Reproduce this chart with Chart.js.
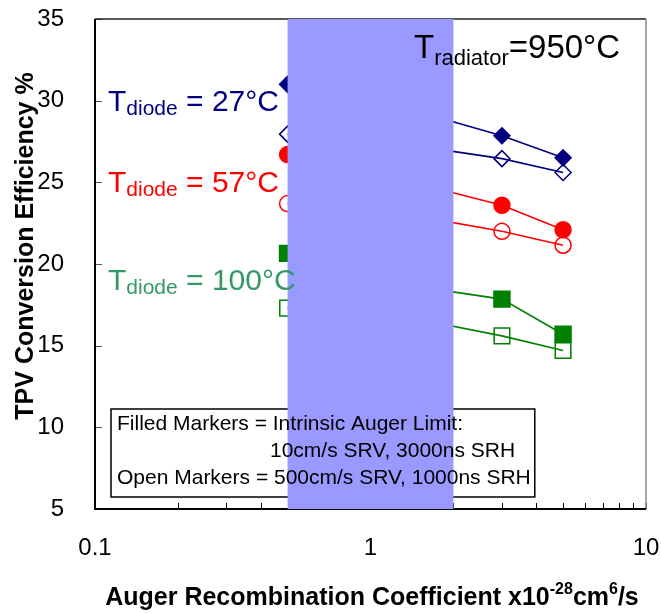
<!DOCTYPE html>
<html>
<head>
<meta charset="utf-8">
<script src="https://cdn.jsdelivr.net/npm/chart.js@4.4.0/dist/chart.umd.min.js"></script>
<style>
html, body { margin: 0; padding: 0; background: #fff; }
</style>
</head>
<body>
<canvas id="myChart" width="661" height="614"></canvas>
<script>
// values
var xValues = [0.5, 1, 1.5, 3, 5];
var filled27 = [31.0, 30.0, 29.3, 27.85, 26.5];
var open27 = [27.95, 27.5, 27.2, 26.45, 25.6];
var filled57 = [26.7, 25.6, 24.9, 23.6, 22.1];
var open57 = [23.7, 23.2, 22.9, 22.0, 21.15];
var filled100 = [20.65, 19.4, 18.6, 17.85, 15.7];
var open100 = [17.3, 16.9, 16.6, 15.6, 14.7];
var xTickLabels = [0.1, 1, 10];
var yTickLabels = [5, 10, 15, 20, 25, 30, 35];
var bandRange = [0.5, 2];

var FONT = '"Liberation Sans", Arial, sans-serif';

function series(label, ys, color, style, radius, filled) {
    return {
        label: label,
        data: xValues.map(function(x, i){ return {x: x, y: ys[i]}; }),
        showLine: true,
        borderColor: color,
        borderWidth: 1.6,
        pointStyle: style,
        pointRadius: radius,
        pointHoverRadius: radius,
        pointBorderColor: color,
        pointBackgroundColor: filled ? color : 'rgba(0,0,0,0)',
        pointBorderWidth: 1.5,
        fill: false
    };
}

function richWidth(ctx, parts) {
    var w = 0;
    parts.forEach(function(p){
        ctx.font = (p.bold ? 'bold ' : '') + p.size + 'px ' + FONT;
        w += ctx.measureText(p.t).width;
    });
    return w;
}

function drawRich(ctx, x, y, parts, color) {
    ctx.fillStyle = color;
    ctx.textAlign = 'left';
    ctx.textBaseline = 'alphabetic';
    parts.forEach(function(p){
        ctx.font = (p.bold ? 'bold ' : '') + p.size + 'px ' + FONT;
        ctx.fillText(p.t, x, y + (p.dy || 0));
        x += ctx.measureText(p.t).width;
    });
}

var decor = {
    id: 'decor',
    afterDatasetsDraw: function(chart) {
        var ctx = chart.ctx, a = chart.chartArea;
        var xs = chart.scales.x, ys = chart.scales.y;
        ctx.save();

        // inside tick marks
        ctx.strokeStyle = '#000';
        ctx.lineWidth = 1;
        xs.ticks.forEach(function(t){
            var px = Math.round(xs.getPixelForValue(t.value)) + 0.5;
            ctx.beginPath();
            ctx.moveTo(px, a.bottom);
            ctx.lineTo(px, a.bottom - 6);
            ctx.stroke();
        });
        ctx.strokeStyle = '#555';
        ys.ticks.forEach(function(t){
            var py = Math.round(ys.getPixelForValue(t.value)) + 0.5;
            ctx.beginPath();
            ctx.moveTo(a.left, py);
            ctx.lineTo(a.left + 7, py);
            ctx.stroke();
        });

        // plot frame
        ctx.lineWidth = 1.5;
        ctx.strokeStyle = '#222';
        ctx.beginPath();
        ctx.moveTo(a.right, a.top);
        ctx.lineTo(a.left, a.top);
        ctx.stroke();
        ctx.strokeStyle = '#888';
        ctx.beginPath();
        ctx.moveTo(a.right, a.top);
        ctx.lineTo(a.right, a.bottom);
        ctx.stroke();
        ctx.lineWidth = 2;
        ctx.strokeStyle = '#000';
        ctx.beginPath();
        ctx.moveTo(a.left, a.top);
        ctx.lineTo(a.left, a.bottom);
        ctx.lineTo(a.right, a.bottom);
        ctx.stroke();

        // note box border
        var lines = ['Filled Markers = Intrinsic Auger Limit:', '10cm/s SRV, 3000ns SRH', 'Open Markers = 500cm/s SRV, 1000ns SRH'];
        ctx.font = '21px ' + FONT;
        var boxW = ctx.measureText(lines[2]).width + 10;
        ctx.lineWidth = 1.5;
        ctx.strokeStyle = '#000';
        ctx.strokeRect(111, 409, boxW, 88);

        // shaded band
        var b0 = xs.getPixelForValue(bandRange[0]);
        var b1 = xs.getPixelForValue(bandRange[1]);
        ctx.fillStyle = '#9999FF';
        ctx.fillRect(b0, a.top, b1 - b0, a.bottom - a.top);

        // note text
        ctx.fillStyle = '#000';
        ctx.textAlign = 'left';
        ctx.textBaseline = 'alphabetic';
        ctx.font = '21px ' + FONT;
        ctx.fillText(lines[0], 117, 430);
        ctx.fillText(lines[1], 270, 457);
        ctx.fillText(lines[2], 117, 484);

        // diode temperature labels
        var temps = [['27', '#000080', 111], ['57', '#FF0000', 192], ['100', '#339966', 290]];
        temps.forEach(function(t){
            drawRich(ctx, 108, t[2], [
                {t: 'T', size: 30},
                {t: 'diode', size: 21, dy: 4},
                {t: ' = ' + t[0] + '\u00B0C', size: 30}
            ], t[1]);
        });
        drawRich(ctx, 414, 58, [
            {t: 'T', size: 33},
            {t: 'radiator', size: 22, dy: 7},
            {t: '=950\u00B0C', size: 33}
        ], '#000');

        // axis titles
        var xt = [
            {t: 'Auger Recombination Coefficient x10', size: 25, bold: true},
            {t: '-28', size: 16, bold: true, dy: -11},
            {t: 'cm', size: 25, bold: true},
            {t: '6', size: 16, bold: true, dy: -11},
            {t: '/s', size: 25, bold: true}
        ];
        var w = richWidth(ctx, xt);
        drawRich(ctx, 372 - w / 2, 605, xt, '#000');

        ctx.translate(33, 246);
        ctx.rotate(-Math.PI / 2);
        ctx.font = 'bold 25px ' + FONT;
        ctx.textAlign = 'center';
        ctx.fillStyle = '#000';
        ctx.fillText('TPV Conversion Efficiency %', 0, 0);
        ctx.restore();
    }
};

var ctx = document.getElementById('myChart');
var chart = new Chart(ctx, {
    type: 'scatter',
    data: {
        datasets: [
            series('27 filled', filled27, '#000080', 'rectRot', 8, true),
            series('27 open', open27, '#000080', 'rectRot', 8, false),
            series('57 filled', filled57, '#FF0000', 'circle', 8, true),
            series('57 open', open57, '#FF0000', 'circle', 8, false),
            series('100 filled', filled100, '#008000', 'rect', 11.3, true),
            series('100 open', open100, '#008000', 'rect', 11, false)
        ]
    },
    options: {
        responsive: false,
        animation: false,
        layout: { padding: { left: 0, top: 19, right: 15, bottom: 0 } },
        plugins: {
            legend: { display: false },
            tooltip: { enabled: false }
        },
        scales: {
            x: {
                type: 'logarithmic',
                min: 0.1,
                max: 10,
                grid: { display: false },
                border: { display: false },
                afterFit: function(s){
                    s.height = 105;
                    s.paddingLeft = 0;
                    s.paddingRight = 0;
                },
                ticks: {
                    autoSkip: false,
                    maxRotation: 0,
                    padding: 17,
                    color: '#000',
                    font: { family: FONT, size: 24 },
                    callback: function(v){
                        return xTickLabels.indexOf(Number(v)) >= 0 ? String(v) : '';
                    }
                }
            },
            y: {
                min: 5,
                max: 35,
                grid: { display: false },
                border: { display: false },
                afterFit: function(s){
                    s.width = 95;
                    s.paddingTop = 0;
                    s.paddingBottom = 0;
                },
                ticks: {
                    stepSize: 5,
                    padding: 23,
                    color: '#000',
                    font: { family: FONT, size: 24 },
                    callback: function(v){
                        return yTickLabels.indexOf(v) >= 0 ? String(v) : '';
                    }
                }
            }
        }
    },
    plugins: [decor]
});
</script>
</body>
</html>
